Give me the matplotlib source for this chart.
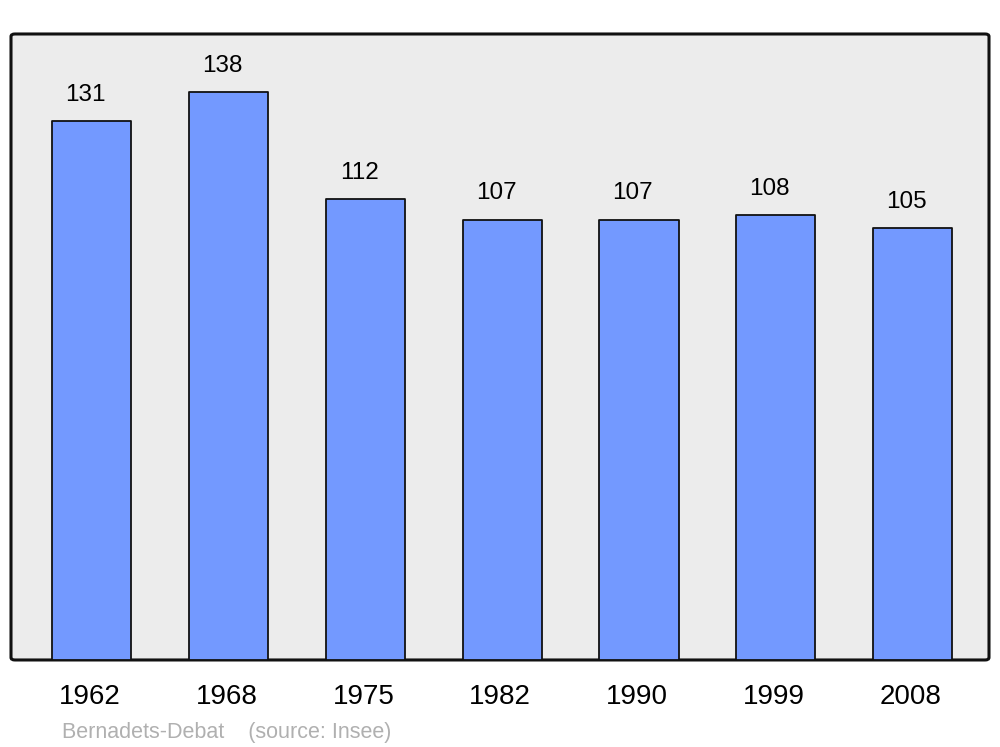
import matplotlib
matplotlib.use("Agg")
import matplotlib.pyplot as plt
from matplotlib.patches import FancyBboxPatch

years = ["1962", "1968", "1975", "1982", "1990", "1999", "2008"]
population = [131, 138, 112, 107, 107, 108, 105]

plt.rcParams['font.family'] = ['Liberation Sans', 'DejaVu Sans']

fig = plt.figure(figsize=(10, 7.47), dpi=100)
ax = fig.add_axes([0.011, 0.1165, 0.978, 0.838])
ax.set_facecolor('none')

# rounded grey frame
frame = FancyBboxPatch((0, 0), 1, 1, boxstyle="round,pad=0,rounding_size=0.004",
                       transform=ax.transAxes, facecolor='#ececec',
                       edgecolor='#111111', linewidth=2.2, zorder=0, clip_on=False)
ax.add_patch(frame)

x = list(range(len(years)))
bars = ax.bar(x, population, width=0.578, color='#7399ff', edgecolor='#111111',
              linewidth=1.3, zorder=2)
for b in bars:
    b.set_joinstyle('round')

for xi, v in zip(x, population):
    ax.text(xi - 0.045, v + 3.7, str(v), ha='center', va='bottom', fontsize=17.5, zorder=3)

ax.set_xlim(-0.592, 6.559)
ax.set_ylim(0, 152.1)
ax.set_xticks([xi - 0.015 for xi in x])
ax.set_xticklabels(years, fontsize=20)
ax.tick_params(axis='x', length=0, pad=17)
ax.set_yticks([])
for s in ax.spines.values():
    s.set_visible(False)

fig.text(0.062, 0.012, "Bernadets-Debat    (source: Insee)", color='#b0b0b0',
         fontsize=15.5, ha='left', va='baseline')

fig.savefig("out.png", dpi=100, facecolor='white')
